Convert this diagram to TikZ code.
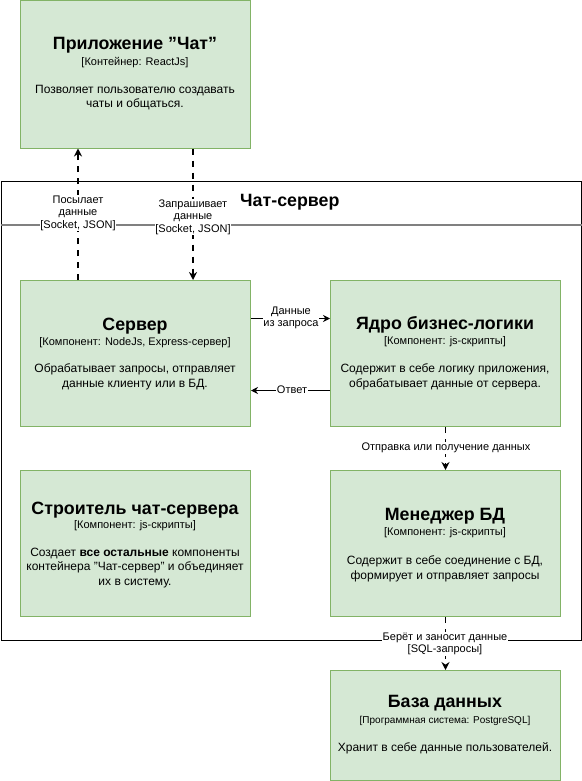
\documentclass[tikz,border=0pt]{standalone}
\usepackage{fontspec}
\setmainfont{Liberation Sans}
\usetikzlibrary{arrows.meta}
\definecolor{gfill}{HTML}{D5E8D4}
\definecolor{gdraw}{HTML}{82B366}
\newcommand{\dq}{\char34\relax}
\begin{document}
\begin{tikzpicture}[x=1pt,y=-1pt,
  comp/.style={draw=gdraw, fill=gfill, line width=1pt, minimum width=230pt, inner sep=0pt},
  ttl/.style={font=\fontsize{17.8}{20}\selectfont\bfseries, inner sep=0pt},
  sub/.style={font=\fontsize{11}{12}\selectfont, inner sep=0pt},
  dsc/.style={font=\fontsize{12}{14.8}\selectfont, align=center, inner sep=0pt},
  lbl/.style={font=\fontsize{11}{12.5}\selectfont, align=center, fill=white, inner sep=0.8pt},
  conn/.style={line width=1pt, -{Stealth[length=7pt,width=7pt]}},
  dsh/.style={line width=1.8pt, dash pattern=on 6pt off 6pt, -{Stealth[length=8pt,width=8pt]}}
]
\useasboundingbox (0,0) rectangle (581,781);
% container
\node[draw=black, line width=1pt, minimum width=580pt, minimum height=459pt, inner sep=0pt, anchor=north west] (cont) at (0.5,181) {};
\draw[line width=1.5pt, draw=gray] (cont.west |- 0,225) coordinate (dl) -- (cont.east |- 0,225) coordinate (dr);
\node[ttl, anchor=west] (conttitle) at (240,202) {Чат-сервер};

% boxes
\node[comp, minimum height=147pt, anchor=north west] (app) at (20,0.5) {};
\node[comp, minimum height=146pt, anchor=north west] (srv) at (20,280) {};
\node[comp, minimum height=146pt, anchor=north west] (core) at (330,280) {};
\node[comp, minimum height=146pt, anchor=north west] (bld) at (20,470) {};
\node[comp, minimum height=146pt, anchor=north west] (mgr) at (330,470) {};
\node[comp, minimum height=110pt, anchor=north west] (db) at (330,670) {};

% texts
\node[ttl] (appT) at (135,45) {Приложение \dq Чат\dq};
\node[sub] (appS) at (135,63) {[Контейнер: ReactJs]};
\node[dsc] (appD) at (135,97.5) {Позволяет пользователю создавать\\чаты и общаться.};

\node[ttl] (srvT) at (135,326) {Сервер};
\node[sub] (srvS) at (135,343) {[Компонент: NodeJs, Express-сервер]};
\node[dsc] (srvD) at (135,377) {Обрабатывает запросы, отправляет\\данные клиенту или в БД.};

\node[ttl] (coreT) at (445,325) {Ядро бизнес-логики};
\node[sub] (coreS) at (445,342) {[Компонент: js-скрипты]};
\node[dsc] (coreD) at (445,377) {Содержит в себе логику приложения,\\обрабатывает данные от сервера.};

\node[ttl] (bldT) at (135,510) {Строитель чат-сервера};
\node[sub] (bldS) at (135,526) {[Компонент: js-скрипты]};
\node[dsc] (bldD) at (135,568) {Создает \textbf{все остальные} компоненты\\контейнера \dq Чат-сервер\dq{} и объединяет\\их в систему.};

\node[ttl] (mgrT) at (445,516) {Менеджер БД};
\node[sub] (mgrS) at (445,533) {[Компонент: js-скрипты]};
\node[dsc] (mgrD) at (445,568.5) {Содержит в себе соединение с БД,\\формирует и отправляет запросы};

\node[ttl] (dbT) at (445,703) {База данных};
\node[sub, font=\fontsize{10}{11}\selectfont] (dbS) at (445,721) {[Программная система: PostgreSQL]};
\node[dsc] (dbD) at (445,748) {Хранит в себе данные пользователей.};

% connectors
\draw[dsh] ([xshift=58pt]srv.north west) -- ([xshift=58pt]app.south west);
\node[lbl] (l1) at (78,213) {Посылает\\данные\\{[Socket, JSON]}};
\draw[dsh] ([xshift=173pt]app.south west) -- ([xshift=173pt]srv.north west);
\node[lbl] (l2) at (193,217) {Запрашивает\\данные\\{[Socket, JSON]}};

\draw[conn] ([yshift=35pt]srv.east) -- ([yshift=35pt]core.west);
\node[lbl] (l3) at (291,318) {Данные\\из запроса};
\draw[conn] ([yshift=-37pt]core.west) -- ([yshift=-37pt]srv.east);
\node[lbl] (l4) at (292,390) {Ответ};

\draw[dsh] (core.south) -- (mgr.north);
\node[lbl] (l5) at (446,448) {Отправка или получение данных};
\draw[dsh] (mgr.south) -- (db.north);
\node[lbl] (l6) at (445,644) {Берёт и заносит данные\\{[SQL-запросы]}};
\end{tikzpicture}
\end{document}
